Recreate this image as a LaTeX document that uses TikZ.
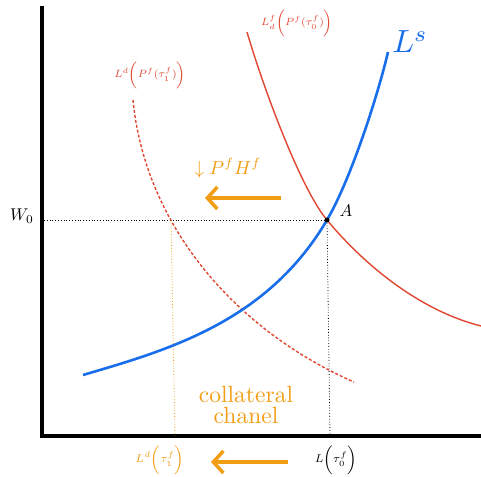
\documentclass[tikz,border=0pt]{standalone}
\usetikzlibrary{arrows.meta}
\definecolor{cblue}{RGB}{25,110,235}
\definecolor{cred}{RGB}{225,70,50}
\definecolor{corange}{RGB}{242,158,20}
\begin{document}
\begin{tikzpicture}[x=1pt,y=-1pt,
  axis/.style={line width=3.5pt,black},
  supply/.style={line width=2.6pt,cblue},
  demand/.style={line width=1.4pt,cred},
  guide/.style={dotted,line width=0.8pt},
  shiftarrow/.style={line width=3.5pt,corange,-{Straight Barb[length=10pt,width=22pt,line width=3.5pt]}},
  lbl/.style={inner sep=1pt}]
\useasboundingbox (0,0) rectangle (481,476);
\fill[white] (0,0) rectangle (481,476);
% axes
\coordinate (O) at (42,436);
\coordinate (Ytop) at (42,6);
\coordinate (Xend) at (481,436);
\draw[axis] (Ytop) -- (O) -- (Xend);
% points
\coordinate (A) at (327,220);
\coordinate (B) at (171,220);
\coordinate (Wy) at (44,220);
\coordinate (Ax) at (330,436);
\coordinate (Bx) at (175,436);
% guides
\draw[guide] (Wy) -- (A);
\draw[guide] (A) -- (Ax);
\draw[guide,corange] (B) -- (Bx);
% curves
\draw[demand,dash pattern=on 3pt off 2pt] (133,100) .. controls (145,225) and (235,330) .. (354,382);
\draw[demand] (247,32) .. controls (264,90) and (301,189) .. (A) .. controls (365,266) and (421,311) .. (481,326);
\draw[supply] (83,375) .. controls (168,350) and (267,322) .. (A) .. controls (352,177) and (379,91) .. (388,52);
\fill (A) circle (2.5pt);
% labels
\node[lbl,scale=1.7] (W0) at (22,216) {$W_0$};
\node[lbl,scale=1.7] (Alab) at (346,211) {$A$};
\node[lbl,cblue,scale=3.2] (Ls) at (410,42) {$L^s$};
\node[lbl,cred,scale=1.5,font=\scriptsize] (Ldf) at (297,23) {$L_d^f\bigl(P^f(\tau_0^f)\bigr)$};
\node[lbl,cred,scale=1.5,font=\scriptsize] (Ld) at (150,75) {$L^d\bigl(P^f(\tau_1^f)\bigr)$};
\node[lbl,corange,scale=1.9] (PH) at (228,168) {$\downarrow P^fH^f$};
\coordinate (a1s) at (281,198);
\coordinate (a1e) at (205,198);
\draw[shiftarrow] (a1s) -- (a1e);
\coordinate (a2s) at (288,462);
\coordinate (a2e) at (211,462);
\draw[shiftarrow] (a2s) -- (a2e);
\node[lbl,corange,align=center,scale=2.35,font=\linespread{0.75}\selectfont] (coll) at (246,405) {collateral\\chanel};
\node[lbl,corange,scale=1.6,font=\scriptsize] (LdT) at (160,460) {$L^d\bigl(\tau_1^f\bigr)$};
\node[lbl,scale=1.6,font=\scriptsize] (LT) at (336,460) {$L\bigl(\tau_0^f\bigr)$};
\end{tikzpicture}
\end{document}
